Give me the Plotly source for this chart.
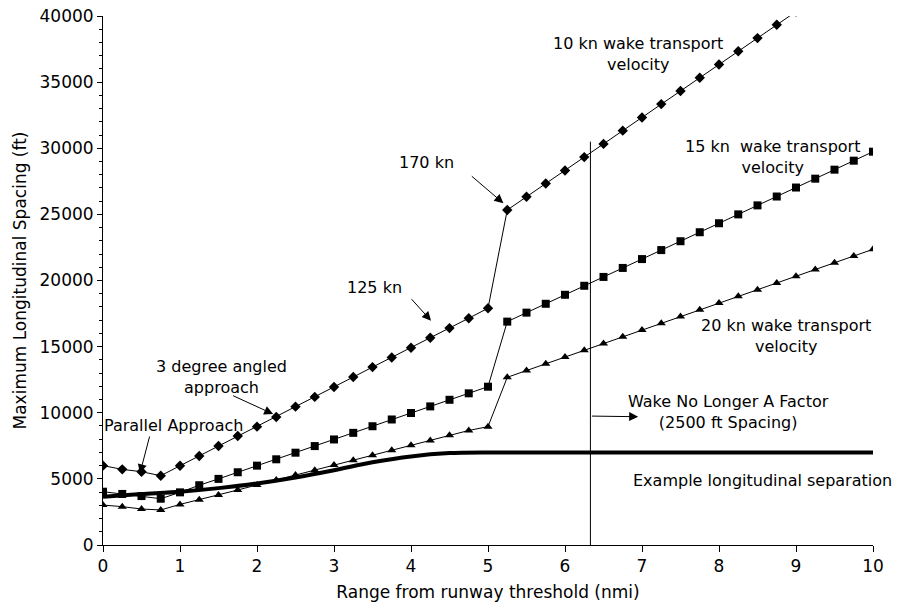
import plotly.graph_objects as go

# ---------------- data ----------------
range_nmi = [0, 0.25, 0.5, 0.75, 1, 1.25, 1.5, 1.75, 2, 2.25, 2.5, 2.75, 3, 3.25, 3.5, 3.75,
             4, 4.25, 4.5, 4.75, 5, 5.25, 5.5, 5.75, 6, 6.25, 6.5, 6.75, 7, 7.25, 7.5, 7.75,
             8, 8.25, 8.5, 8.75, 9, 9.25, 9.5, 9.75, 10]

kn10 = [6000, 5720, 5540, 5240, 5990, 6730, 7490, 8240, 8950, 9680, 10460, 11200, 11950,
        12700, 13450, 14180, 14920, 15670, 16400, 17150, 17900, 25330, 26330, 27330, 28320,
        29330, 30330, 31330, 32330, 33340, 34330, 35330, 36330, 37330, 38330, 39340, 40330,
        41330, 42330, 43330, 44330]

kn15 = [4030, 3860, 3700, 3500, 3980, 4520, 5000, 5500, 6000, 6480, 6980, 7480, 7980, 8480,
        8980, 9490, 9980, 10480, 10980, 11470, 11970, 16890, 17570, 18240, 18920, 19600,
        20270, 20950, 21620, 22300, 22970, 23650, 24330, 25000, 25680, 26350, 27030, 27700,
        28380, 29060, 29740]

kn20 = [3020, 2900, 2720, 2650, 3070, 3420, 3790, 4160, 4540, 4910, 5290, 5660, 6040, 6410,
        6790, 7160, 7540, 7910, 8290, 8660, 8950, 12680, 13190, 13700, 14210, 14730, 15230,
        15740, 16250, 16760, 17270, 17780, 18290, 18800, 19310, 19820, 20330, 20840, 21350,
        21860, 22360]

sep_x = [0, 0.5, 1, 1.5, 2, 2.5, 3, 3.5, 4, 4.5, 5, 6, 10]
sep_y = [3650, 3850, 4030, 4300, 4650, 5100, 5650, 6250, 6700, 6950, 7000, 7000, 7000]

wake_limit_x = [6.33, 6.33]
wake_limit_y = [0, 30500]

x_ticks = [0, 1, 2, 3, 4, 5, 6, 7, 8, 9, 10]
y_ticks = [0, 5000, 10000, 15000, 20000, 25000, 30000, 35000, 40000]
y_tick_text = ["0", "5000", "10000", "15000", "20000", "25000", "30000", "35000", "40000"]

FONT = "DejaVu Sans, Liberation Sans, Arial, sans-serif"

fig = go.Figure()

line_style = dict(color="black", width=1)
fig.add_trace(go.Scatter(x=range_nmi, y=kn10, mode="lines+markers", line=line_style,
                         marker=dict(symbol="diamond", size=8, color="black")))
fig.add_trace(go.Scatter(x=range_nmi, y=kn15, mode="lines+markers", line=line_style,
                         marker=dict(symbol="square", size=8, color="black")))
fig.add_trace(go.Scatter(x=range_nmi, y=kn20, mode="lines+markers", line=line_style,
                         marker=dict(symbol="triangle-up", size=8, color="black")))
fig.add_trace(go.Scatter(x=sep_x, y=sep_y, mode="lines",
                         line=dict(color="black", width=4, shape="spline", smoothing=0.8)))
fig.add_trace(go.Scatter(x=wake_limit_x, y=wake_limit_y, mode="lines",
                         line=dict(color="black", width=1)))

# text labels (data coordinates)
texts = [
    ("10 kn wake transport<br>velocity", 6.95, 37130),
    ("15 kn  wake transport<br>velocity", 8.70, 29340),
    ("20 kn wake transport<br>velocity", 8.87, 15800),
    ("Wake No Longer A Factor<br>(2500 ft Spacing)", 8.12, 10060),
    ("Example longitudinal separation", 8.56, 4840),
    ("170 kn", 4.20, 28910),
    ("125 kn", 3.52, 19490),
    ("3 degree angled<br>approach", 1.545, 12740),
    ("Parallel Approach", 0.91, 9000),
]
for t, x, y in texts:
    fig.add_annotation(x=x, y=y, text=t, showarrow=False, align="center",
                       font=dict(family=FONT, size=16, color="black"))

# arrows: (tail_x, tail_y, tip_x, tip_y)
arrows = [
    (4.77, 27980, 5.20, 25840),
    (3.99, 18700, 4.26, 16960),
    (1.67, 11340, 2.21, 9900),
    (0.61, 8320, 0.48, 5420),
    (6.33, 9750, 6.95, 9700),
]
for ax_, ay_, x, y in arrows:
    fig.add_annotation(x=x, y=y, ax=ax_, ay=ay_, axref="x", ayref="y", text="",
                       showarrow=True, arrowhead=2, arrowsize=1.8, arrowwidth=1,
                       arrowcolor="black")

fig.update_layout(
    width=899, height=606,
    margin=dict(l=103, r=26, t=16, b=61),
    paper_bgcolor="white", plot_bgcolor="white",
    showlegend=False,
    font=dict(family=FONT, color="black"),
)
fig.update_xaxes(range=[0, 10], tickvals=x_ticks, showgrid=False, zeroline=False,
                 showline=True, linecolor="black", linewidth=1, automargin=False,
                 ticks="outside", ticklen=6, tickcolor="black",
                 tickfont=dict(family=FONT, size=17),
                 title=dict(text="Range from runway threshold (nmi)",
                            font=dict(family=FONT, size=17), standoff=10))
fig.update_yaxes(range=[0, 40000], tickvals=y_ticks, ticktext=y_tick_text,
                 showgrid=False, zeroline=False, automargin=False,
                 showline=True, linecolor="black", linewidth=1,
                 ticks="outside", ticklen=5, tickcolor="black",
                 minor=dict(dtick=1000, ticks="outside", ticklen=3, tickcolor="black", showgrid=False),
                 tickfont=dict(family=FONT, size=17),
                 title=dict(text="Maximum Longitudinal Spacing (ft)",
                            font=dict(family=FONT, size=17), standoff=8))

fig.write_html("out.html")
